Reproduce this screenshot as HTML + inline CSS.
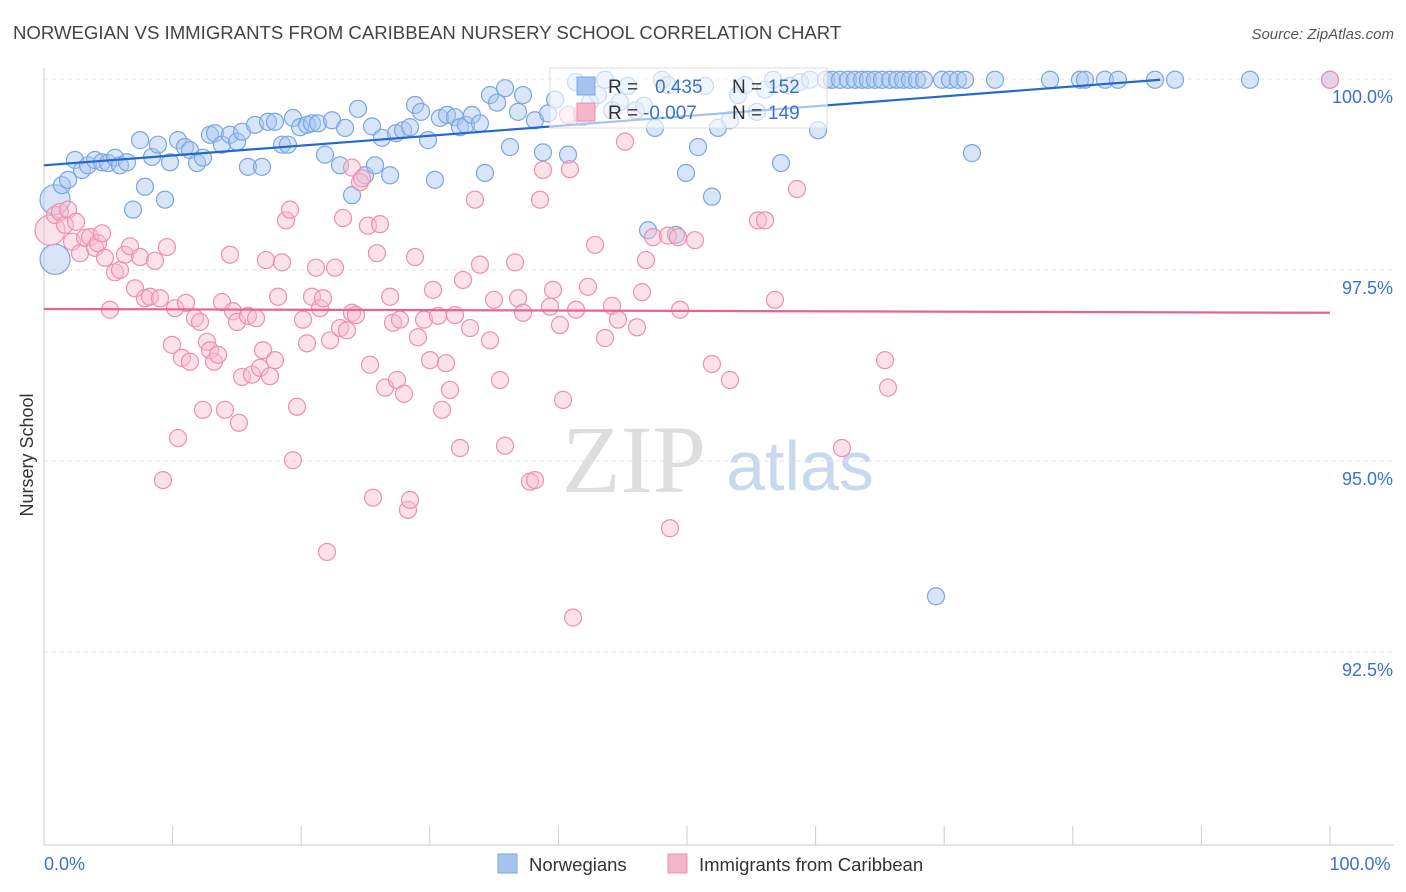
<!DOCTYPE html>
<html><head><meta charset="utf-8"><style>
body{margin:0;background:#fff;font-family:"Liberation Sans",sans-serif;}
svg{display:block}
</style></head><body>
<svg id="chart" width="1406" height="892" font-family="Liberation Sans, sans-serif">
<text x="13" y="39" font-size="18.6" fill="#444">NORWEGIAN VS IMMIGRANTS FROM CARIBBEAN NURSERY SCHOOL CORRELATION CHART</text>
<text x="1394" y="39" font-size="15" fill="#555" font-style="italic" text-anchor="end">Source: ZipAtlas.com</text>
<text x="634" y="492" font-size="96" fill="#ddd" font-family="Liberation Serif, serif" text-anchor="middle">ZIP</text>
<text x="800" y="490" font-size="70" fill="#c8d8ee" text-anchor="middle">atlas</text>
<text transform="translate(33,455) rotate(-90)" font-size="18" fill="#333" text-anchor="middle">Nursery School</text>
<g id="grid"></g><g id="pts"></g><g id="lines"></g>
<g>
<rect x="550" y="68" width="277" height="60" fill="#fff" fill-opacity="0.6" stroke="#ddd"/>
<rect x="577" y="77" width="18" height="18" fill="#a4c4ee" stroke="#7ba6e0"/>
<text x="608" y="93" font-size="19" fill="#333">R =</text>
<text x="655" y="93" font-size="19" fill="#3a72d0">0.435</text>
<text x="732" y="93" font-size="19" fill="#333">N =</text>
<text x="768" y="93" font-size="19" fill="#3a72d0">152</text>
<rect x="577" y="103" width="18" height="18" fill="#f4b6c9" stroke="#ee8fae"/>
<text x="608" y="119" font-size="19" fill="#333">R =</text>
<text x="643" y="119" font-size="19" fill="#3a72d0">-0.007</text>
<text x="732" y="119" font-size="19" fill="#333">N =</text>
<text x="768" y="119" font-size="19" fill="#3a72d0">149</text>
</g>
<g>
<rect x="498" y="854" width="19" height="19" fill="#a4c4ee" stroke="#7ba6e0"/>
<text x="529" y="871" font-size="18.5" fill="#333">Norwegians</text>
<rect x="668" y="854" width="19" height="19" fill="#f4b6c9" stroke="#ee8fae"/>
<text x="699" y="871" font-size="18.5" fill="#333">Immigrants from Caribbean</text>
</g>
</svg>
<script>
const yTicks=[100,97.5,95,92.5];
const yTickLabels=["100.0%","97.5%","95.0%","92.5%"];
const xTickLabels=["0.0%","100.0%"];
const blueX=[0.86,0.86,1.4,1.87,2.41,2.96,3.42,3.97,4.51,4.98,5.52,5.91,6.45,6.92,7.47,7.85,8.4,8.86,9.41,9.8,10.42,10.96,11.35,11.9,12.36,12.91,13.3,13.84,14.46,15.01,15.4,15.86,16.41,16.95,17.42,17.96,18.51,18.97,19.36,19.91,20.45,20.84,21.31,21.85,22.4,23.02,23.41,23.95,24.42,24.96,25.51,25.74,26.28,26.91,27.37,27.92,28.46,28.85,29.32,29.86,30.4,30.79,31.34,31.96,32.35,32.81,33.28,33.9,34.29,34.68,35.23,35.85,36.24,36.86,37.25,38.18,38.8,39.19,39.74,40.75,41.37,41.91,42.46,43.08,43.62,44.17,44.79,45.41,46.03,46.66,46.97,47.51,48.06,48.52,49.14,49.92,50.86,51.4,51.94,52.41,53.34,53.97,54.51,55.44,56.07,56.69,57.31,58.01,58.79,59.56,60.19,60.81,61.28,61.9,62.52,63.06,63.61,64.07,64.62,65.16,65.79,66.33,66.8,67.34,67.88,68.43,69.83,70.45,71.07,71.62,73.95,78.23,80.56,80.95,82.5,83.51,86.39,87.95,93.78,100,69.36,72.16];
const blueY=[98.42,97.64,98.61,98.68,98.94,98.81,98.87,98.94,98.91,98.9,98.97,98.87,98.91,98.29,99.2,98.59,98.98,99.14,98.42,98.91,99.2,99.11,99.07,98.9,98.97,99.27,99.29,99.14,99.27,99.18,99.31,98.85,99.4,98.85,99.44,99.44,99.14,99.14,99.49,99.37,99.4,99.42,99.42,99.01,99.46,98.87,99.36,98.48,99.61,98.74,99.38,98.87,99.23,98.74,99.29,99.33,99.37,99.66,99.57,99.2,98.68,99.49,99.53,99.5,99.37,99.4,99.53,99.42,98.77,99.79,99.69,99.88,99.11,99.57,99.79,99.46,99.04,99.55,99.73,99.01,99.96,99.5,99.7,99.79,99.99,99.59,99.7,99.91,99.59,99.65,98.02,99.36,99.99,99.92,97.96,98.77,99.11,99.91,98.46,99.36,99.46,99.79,99.92,99.57,99.86,99.99,98.9,99.91,99.96,99.99,99.33,99.99,99.99,99.99,99.99,99.99,99.99,99.99,99.99,99.99,99.99,99.99,99.99,99.99,99.99,99.99,99.99,99.99,99.99,99.99,99.99,99.99,99.99,99.99,99.99,99.99,99.99,99.99,99.99,99.99,93.23,99.03];
const pinkX=[0.47,0.86,1.24,1.63,1.87,2.18,2.49,2.8,3.19,3.58,3.97,4.2,4.51,4.74,5.13,5.52,5.91,6.3,6.69,7.08,7.47,7.85,8.24,8.63,9.02,9.25,9.56,9.95,10.19,10.42,10.73,11.04,11.35,11.74,12.13,12.36,12.67,12.91,13.22,13.53,13.84,14.07,14.46,14.7,15.01,15.16,15.4,15.86,16.17,16.49,16.8,17.03,17.26,17.57,17.96,18.2,18.51,18.82,19.13,19.36,19.67,20.14,20.45,20.84,21.15,21.46,21.7,22.01,22.24,22.63,23.02,23.25,23.56,23.95,23.95,24.26,24.57,24.73,25.19,25.35,25.58,25.89,26.13,26.52,26.91,27.14,27.45,27.68,27.99,28.3,28.46,28.85,29.08,29.55,30.02,30.25,30.64,30.95,31.26,31.57,31.96,32.35,32.58,33.13,33.51,33.9,34.68,34.99,35.46,35.85,36.63,36.86,37.25,37.79,38.18,38.57,38.8,39.35,39.58,40.12,40.36,40.75,40.9,41.14,41.37,41.84,42.3,42.85,43.62,44.17,44.63,45.18,46.11,46.5,46.81,47.36,48.68,48.52,49.3,49.46,50.62,51.94,53.34,55.52,56.07,56.84,58.55,62.05,65.4,65.63,100];
const pinkY=[98.02,98.22,98.26,98.09,98.29,97.87,98.13,97.72,97.92,97.93,97.79,97.85,97.98,97.66,96.98,97.47,97.5,97.7,97.81,97.26,97.67,97.13,97.15,97.62,97.13,94.75,97.8,96.52,97,95.3,96.35,97.07,96.3,96.87,96.82,95.67,96.56,96.45,96.3,96.39,97.08,95.67,97.7,96.96,96.82,95.5,96.1,96.9,96.13,96.87,96.22,96.45,97.63,96.11,96.32,97.15,97.6,98.15,98.29,95.01,95.71,96.85,96.54,97.15,97.53,97,97.13,93.81,96.58,97.53,96.74,98.18,96.71,96.94,98.84,96.91,98.65,98.7,98.08,96.26,94.52,97.72,98.1,95.96,97.15,96.81,96.06,96.85,95.88,94.36,94.49,97.67,96.62,96.85,96.32,97.24,96.9,95.67,96.28,95.93,96.91,95.17,97.37,96.74,98.42,97.57,96.58,97.11,96.06,95.2,97.6,97.13,96.94,94.73,94.75,98.42,98.81,97.02,97.24,96.78,95.8,99.53,98.82,92.95,96.98,99.55,97.28,97.83,96.61,97.03,96.85,99.18,96.75,97.21,97.63,97.93,94.12,97.95,97.93,96.98,97.89,96.27,96.06,98.15,98.15,97.11,98.56,95.17,96.32,95.96,99.99];
const blueTrendX=[0,86.8], blueTrendY=[98.87,99.99];
const pinkTrendX=[0,100], pinkTrendY=[96.99,96.94];
const NS='http://www.w3.org/2000/svg';
const X=v=>44+v*12.86, Y=v=>79+(100-v)*76.4;
function mk(tag,attrs,parent){const e=document.createElementNS(NS,tag);for(const k in attrs)e.setAttribute(k,attrs[k]);parent.appendChild(e);return e;}
const grid=document.getElementById('grid'),pts=document.getElementById('pts'),lines=document.getElementById('lines');
yTicks.forEach((t,i)=>{
 const l=mk('line',{x1:44,x2:1394,y1:Y(t),y2:Y(t),stroke:'#e2e2e2','stroke-dasharray':'4,4'},grid);
 
 
 const tx=mk('text',{x:1393,y:Y(t)+24,'font-size':18,fill:'#3a72d0','text-anchor':'end'},grid);
 tx.textContent=yTickLabels[i];
 
 
});
let ax=mk('line',{x1:44,x2:44,y1:68,y2:845,stroke:'#ccc'},grid);


ax=mk('line',{x1:44,x2:1394,y1:845,y2:845,stroke:'#ccc'},grid);


for(let i=0;i<=10;i++){
 const t=mk('line',{x1:X(i*10),x2:X(i*10),y1:826,y2:845,stroke:'#ccc'},grid);
 
 
}
[[0,'start',44],[100,'middle',1360]].forEach((d,i)=>{
 const tx=mk('text',{x:d[2],y:870,'font-size':18,fill:'#3a72d0','text-anchor':d[1]},grid);
 tx.textContent=xTickLabels[i];
 
 
});
function plot(xs,ys,fill,stroke,name,nBig){
 xs.forEach((x,i)=>{
  const big=i<nBig;
  const c=mk('circle',{cx:X(x),cy:Y(ys[i]),r:big?15:8.5,fill:fill,'fill-opacity':0.45,stroke:stroke,'stroke-width':1.2},pts);
  
  
 });
}
plot(blueX,blueY,'#a9c6ef','#7ba6e0','norwegians-point',2);
plot(pinkX,pinkY,'#f6bccf','#ee8fae','caribbean-point',1);
let tl=mk('line',{x1:X(blueTrendX[0]),y1:Y(blueTrendY[0]),x2:X(blueTrendX[1]),y2:Y(blueTrendY[1]),stroke:'#2468d0','stroke-width':2.2},lines);


tl=mk('line',{x1:X(pinkTrendX[0]),y1:Y(pinkTrendY[0]),x2:X(pinkTrendX[1]),y2:Y(pinkTrendY[1]),stroke:'#e8638f','stroke-width':2.2},lines);


</script>
</body></html>
